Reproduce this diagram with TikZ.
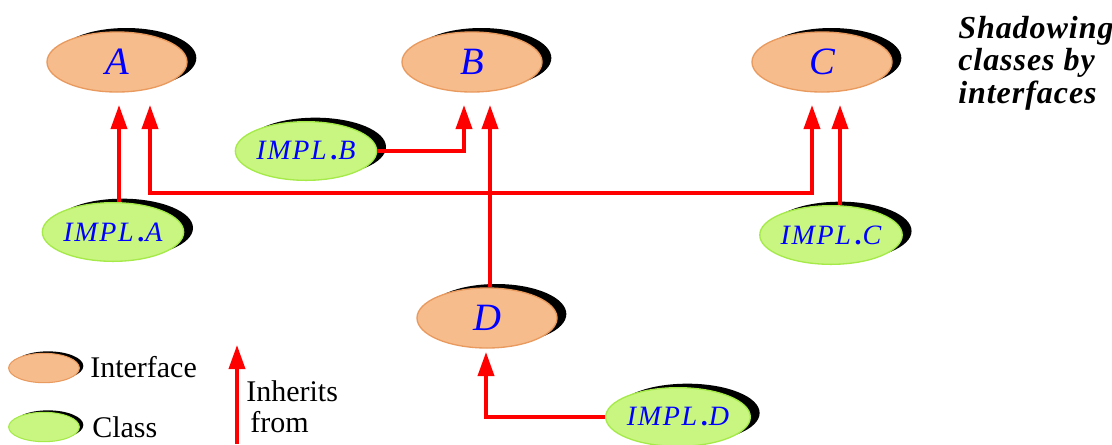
\documentclass[tikz,border=0pt]{standalone}
\usepackage{fontspec}
\setmainfont{Liberation Serif}
\usetikzlibrary{shapes.geometric,shadows,arrows.meta}
\definecolor{ifacefill}{HTML}{F7BC8C}
\definecolor{ifaceline}{HTML}{E99A5E}
\definecolor{classfill}{HTML}{C8F680}
\definecolor{classline}{HTML}{A6EA4A}
\definecolor{inherit}{HTML}{FF0000}
\tikzset{
  blob/.style={ellipse, line width=1pt, inner sep=0pt,
    drop shadow={shadow xshift=7pt, shadow yshift=3pt, fill=black, opacity=1}},
  iface/.style={blob, draw=ifaceline, fill=ifacefill,
    minimum width=105pt, minimum height=45pt,
    text=blue, font=\itshape\fontsize{29}{29}\selectfont},
  cls/.style={blob, draw=classline, fill=classfill,
    minimum width=106pt, minimum height=44pt,
    text=blue, font=\itshape\fontsize{21}{21}\selectfont\addfontfeature{LetterSpace=6}},
  keyblob/.style={ellipse, line width=0.8pt, inner sep=0pt,
    minimum width=53pt, minimum height=22pt,
    drop shadow={shadow xshift=3pt, shadow yshift=1.5pt, fill=black, opacity=1}},
  legendtext/.style={font=\fontsize{22.5}{22.5}\selectfont, inner sep=0pt},
  inh/.style={draw=inherit, line width=2.7pt,
    -{Triangle[length=18pt,width=12pt,fill=inherit]}},
}
\newcommand{\impl}[1]{IMPL\,{\bfseries.}#1}
\begin{document}
\begin{tikzpicture}[x=0.75pt,y=-0.75pt]
\useasboundingbox (0,0) rectangle (1112,444);

% interfaces
\node[iface] (A) at (117,62) {A};
\node[iface] (B) at (472,62) {B};
\node[iface] (C) at (822,62) {C};
\node[iface] (D) at (487,318) {D};

% classes
\node[cls] (implB) at (306,151) {\impl{B}};
\node[cls] (implA) at (113,232) {\impl{A}};
\node[cls] (implC) at (831,235) {\impl{C}};
\node[cls] (implD) at (678,417) {\impl{D}};

% arrow tip positions below the interfaces
\coordinate (tipA1) at (119,105);
\coordinate (tipA2) at (150,105);
\coordinate (tipB1) at (464,105);
\coordinate (tipB2) at (490,105);
\coordinate (tipC1) at (812,105);
\coordinate (tipC2) at (840,105);
\coordinate (tipD)  at (486,352);
\coordinate (split) at (490,193);

% inheritance links
\draw[inh] (tipA1 |- implA.north) -- (tipA1);
\draw[inh] (implB.east) -| (tipB1);
\draw[inh] (tipB2 |- D.north) -- (tipB2);
\draw[inh] (split) -| (tipA2);
\draw[inh] (split) -| (tipC1);
\draw[inh] (tipC2 |- implC.north) -- (tipC2);
\draw[inh] (implD.west) -| (tipD);

% caption
\node[anchor=north west, align=left, inner sep=0pt,
      font=\bfseries\itshape\fontsize{24}{24.3}\selectfont\addfontfeature{LetterSpace=3}] (title) at (958,16)
  {Shadowing\\classes by\\interfaces};

% legend
\node[keyblob, draw=ifaceline, fill=ifacefill] (keyI) at (44,368) {};
\node[keyblob, draw=classline, fill=classfill] (keyC) at (44,427) {};
\node[legendtext, anchor=west] (keyIt) at (90,367) {Interface};
\node[legendtext, anchor=west] (keyCt) at (92,427) {Class};
\coordinate (keyArrowFoot) at (237,444);
\coordinate (keyArrowTip) at (237,345);
\draw[inh] (keyArrowFoot) -- (keyArrowTip);
\node[legendtext, anchor=west, align=left,
      font=\fontsize{22.5}{23}\selectfont] (keyInh) at (246,407)
  {Inherits\\\hspace{3pt}from};
\end{tikzpicture}
\end{document}
